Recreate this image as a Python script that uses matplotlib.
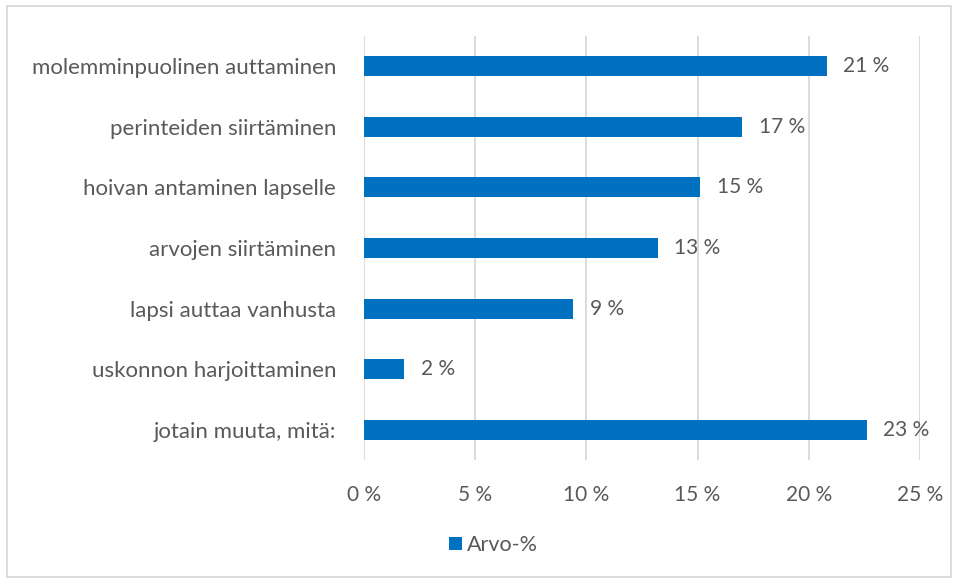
import matplotlib.pyplot as plt
import matplotlib.ticker as mtick
from matplotlib.patches import Rectangle

categories = ['molemminpuolinen auttaminen', 'perinteiden siirtäminen',
              'hoivan antaminen lapselle', 'arvojen siirtäminen',
              'lapsi auttaa vanhusta', 'uskonnon harjoittaminen',
              'jotain muuta, mitä:']
values = [20.8, 17.0, 15.1, 13.2, 9.4, 1.8, 22.6]
series_name = 'Arvo-%'

plt.rcParams['font.family'] = ['Lato', 'DejaVu Sans']
text_col = '#595959'
bar_col = '#0070C0'

fig = plt.figure(figsize=(9.57, 5.8), dpi=100)
ax = fig.add_axes([364 / 957, 120 / 580, 556 / 957, 424 / 580])

y = list(range(len(categories)))[::-1]
bars = ax.barh(y, values, height=0.33, color=bar_col, label=series_name, zorder=3)

for b, v in zip(bars, values):
    ax.text(b.get_width() + 0.75, b.get_y() + b.get_height() / 2,
            f'{round(v)} %', va='center', ha='left', fontsize=15, color=text_col)

ax.set_xlim(0, 25)
ax.set_ylim(-0.5, len(categories) - 0.5)
ax.set_yticks(y)
ax.set_yticklabels(categories, fontsize=16, color=text_col)
ax.set_xticks(range(0, 26, 5))
ax.xaxis.set_major_formatter(mtick.FuncFormatter(lambda v, p: f'{int(v)} %'))
ax.tick_params(axis='x', labelsize=15, colors=text_col, length=0, pad=18)
ax.tick_params(axis='y', length=0, pad=20)
ax.grid(axis='x', color='#d9d9d9', linewidth=1.3, zorder=0)
for s in ax.spines.values():
    s.set_visible(False)

fig.legend(loc='center left', bbox_to_anchor=(430 / 957, 1 - 545 / 580),
           frameon=False, fontsize=15.5, handlelength=0.6, handleheight=0.6,
           handletextpad=0.2, labelcolor=text_col)

fig.patches.append(Rectangle((7 / 957, 3 / 580), 944 / 957, 571 / 580,
                             transform=fig.transFigure, fill=False,
                             edgecolor='#d9d9d9', linewidth=1.3))

fig.savefig('out.png', dpi=100)
